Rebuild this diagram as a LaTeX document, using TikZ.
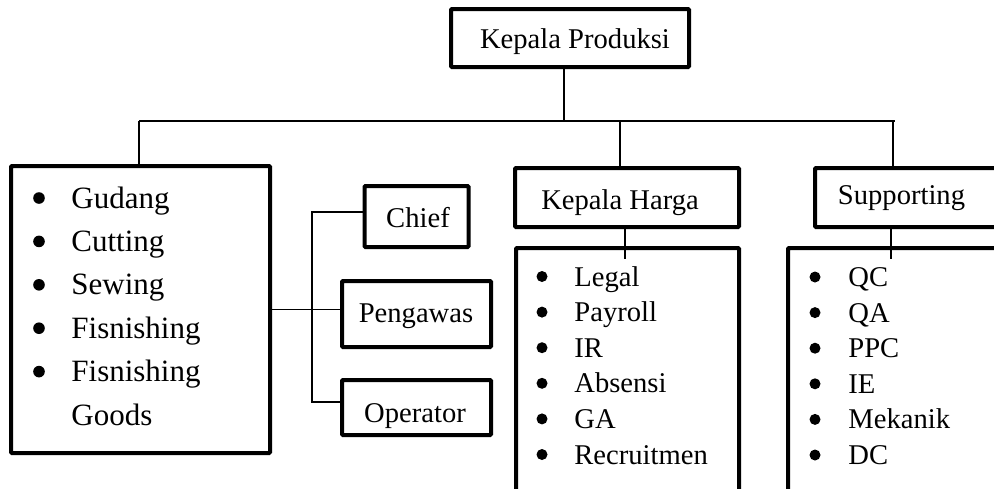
\documentclass[tikz,border=0pt]{standalone}
\usepackage{fontspec}
\setmainfont{Liberation Serif}
\usepackage{tikz}

\tikzset{
  kotak/.style={draw, line width=2pt, rounded corners=0.5pt, inner sep=0pt},
  garis/.style={line width=0.75pt},
  teks/.style={anchor=base, inner sep=0pt, font=\fontsize{14.3}{17}\selectfont},
  isi/.style={anchor=base west, inner sep=0pt, font=\fontsize{14.3}{17}\selectfont},
  isibesar/.style={anchor=base west, inner sep=0pt, font=\fontsize{15.5}{18}\selectfont}
}

\begin{document}
\begin{tikzpicture}[x=0.5pt,y=-0.5pt]
\useasboundingbox (0,0) rectangle (994,488);
\clip (0,0) rectangle (994,488);
% kotak
\node[kotak,minimum width=119pt,minimum height=29pt] (produksi) at (570,38) {};
\node[kotak,minimum width=129.5pt,minimum height=143.5pt] (gudang) at (140.5,309.5) {};
\node[kotak,minimum width=52pt,minimum height=30.5pt] (chief) at (416.5,216.5) {};
\node[kotak,minimum width=74.5pt,minimum height=33pt] (pengawas) at (416.5,314) {};
\node[kotak,minimum width=74.5pt,minimum height=27.5pt] (operator) at (416.5,407.5) {};
\node[kotak,minimum width=112pt,minimum height=29.5pt] (harga) at (627,197.5) {};
\node[kotak,minimum width=112.5pt,minimum height=29.5pt] (support) at (927.5,197.5) {};
\node[kotak,minimum width=111.5pt,minimum height=136pt] (hargaList) at (627.5,384) {};
\node[kotak,minimum width=126pt,minimum height=136pt] (supportList) at (914,384) {};
% judul
\node[teks] (tProduksi) at (575,48) {Kepala Produksi};
\node[teks] (tHarga) at (620,209) {Kepala Harga};
\node[teks] (tSupport) at (901.5,204) {Supporting};
\node[teks] (tChief) at (418,227) {Chief};
\node[teks] (tPengawas) at (416,322) {Pengawas};
\node[teks] (tOperator) at (415,422) {Operator};
% daftar
\foreach \nama [count=\i from 0] in {Gudang,Cutting,Sewing,Fisnishing,Fisnishing}{
    \fill (39,198+43.4*\i) circle (2.9pt);
    \node[isibesar] (gudang-\i) at (71,208+43.4*\i) {\nama};
}
\node[isibesar] (goods) at (71,425) {Goods};
\foreach \nama [count=\i from 0] in {Legal,Payroll,IR,Absensi,GA,Recruitmen}{
    \fill (542,276.5+35.6*\i) circle (2.75pt);
    \node[isi] (harga-\i) at (574,286+35.6*\i) {\nama};
}
\foreach \nama [count=\i from 0] in {QC,QA,PPC,IE,Mekanik,DC}{
    \fill (815,277+35.6*\i) circle (2.75pt);
    \node[isi] (support-\i) at (848,286.5+35.6*\i) {\nama};
}
% garis
\coordinate (busL) at (139,121);
\coordinate (busR) at (895,121);
\coordinate (cabang) at (312,309.5);
\draw[garis] (busL) -- (busR);
\draw[garis] ([xshift=-3pt]produksi.south) -- ([xshift=-3pt]produksi.south |- busL);
\draw[garis] (busL) -- (busL |- gudang.north);
\draw[garis] ([xshift=-3.5pt]harga.north) -- ([xshift=-3.5pt]harga.north |- busL);
\draw[garis] ([xshift=40pt]support.north west) -- ([xshift=40pt]support.north west |- busR);
\draw[garis] ([xshift=-1pt]harga.south) -- ++(0,30);
\draw[garis] ([xshift=39pt]support.south west) -- ++(0,30);
\draw[garis] (gudang.east) -- (gudang.east -| pengawas.west);
\draw[garis] ([yshift=2.25pt]chief.west) -| (cabang) |- ([yshift=2.75pt]operator.west);
\end{tikzpicture}
\end{document}
